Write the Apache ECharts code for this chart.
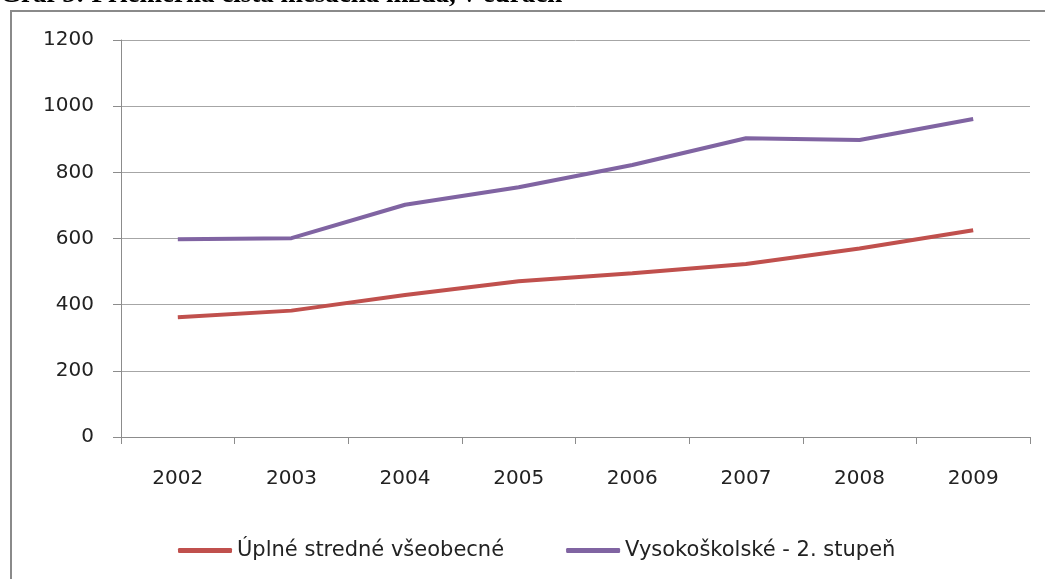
<!DOCTYPE html>
<html>
<head>
<meta charset="utf-8">
<script src="https://cdn.jsdelivr.net/npm/echarts@6/dist/echarts.min.js"></script>
<style>
html,body{margin:0;padding:0;background:#fff;}
#chart{width:1045px;height:579px;}
</style>
</head>
<body>
<div id="chart"></div>
<script>
const titleText = 'Graf 5: Priemerná čistá mesačná mzda, v eurách';
const years = ['2002','2003','2004','2005','2006','2007','2008','2009'];
const seriesNames = ['Úplné stredné všeobecné', 'Vysokoškolské - 2. stupeň'];
const stredne = [362, 382, 429, 471, 495, 523, 570, 625];
const vysoko = [598, 601, 702, 755, 822, 903, 898, 961];
const yTicks = [0, 200, 400, 600, 800, 1000, 1200];

const chart = echarts.init(document.getElementById('chart'));
const font = 'DejaVu Sans';
chart.setOption({
  animation: false,
  backgroundColor: '#fff',
  graphic: [
    {type:'rect', shape:{x:11, y:11, width:1200, height:700}, style:{fill:'none', stroke:'#8a8a8a', lineWidth:2}, z:-1},
    {type:'text', x:0, y:9, style:{text:titleText, font:'bold 27px "Liberation Serif"', fill:'#000', verticalAlign:'bottom', align:'left'}}
  ],
  grid: {left:121, right:15, top:40, bottom:142, containLabel:false},
  legend: {
    bottom: 18,
    left: 178,
    padding: 0,
    itemWidth: 54,
    itemHeight: 5,
    itemGap: 62,
    icon: 'roundRect',
    textStyle: {fontFamily: font, fontSize: 21, color: '#222'},
    data: seriesNames
  },
  xAxis: {
    type: 'category',
    data: years,
    boundaryGap: true,
    axisLine: {lineStyle:{color:'#8c8c8c', width:1}},
    axisTick: {show:true, length:7, lineStyle:{color:'#8c8c8c'}},
    axisLabel: {fontFamily: font, fontSize: 20, color:'#222', margin: 32}
  },
  yAxis: {
    type: 'value',
    min: yTicks[0],
    max: yTicks[yTicks.length-1],
    interval: 200,
    axisLine: {show:true, lineStyle:{color:'#8c8c8c', width:1}},
    axisTick: {show:true, length:8, lineStyle:{color:'#8c8c8c'}},
    splitLine: {lineStyle:{color:'#a6a6a6', width:1}},
    axisLabel: {fontFamily: font, fontSize: 20, color:'#222', margin: 27, formatter: v => String(v)}
  },
  series: [
    {name: seriesNames[0], type:'line', data: stredne, symbol:'none', lineStyle:{color:'#C0504D', width:4}, itemStyle:{color:'#C0504D'}},
    {name: seriesNames[1], type:'line', data: vysoko, symbol:'none', lineStyle:{color:'#8064A2', width:4}, itemStyle:{color:'#8064A2'}}
  ]
});
</script>
</body>
</html>
